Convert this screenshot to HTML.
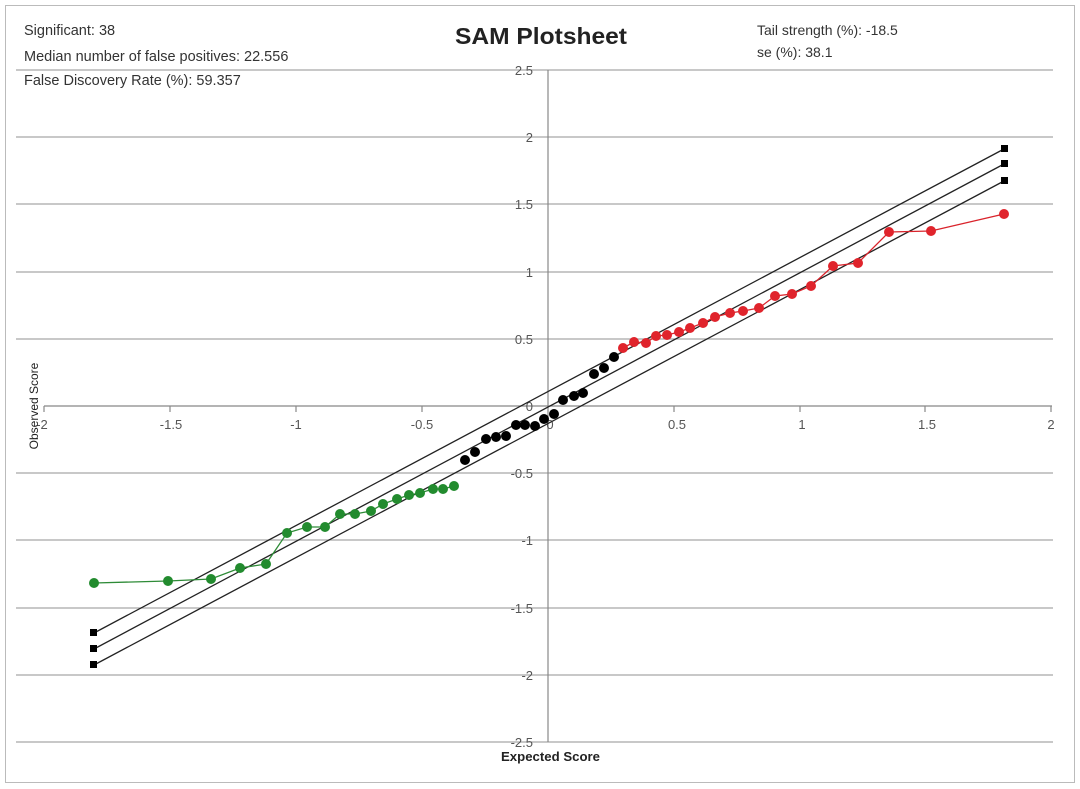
<!DOCTYPE html><html><head><style>body{margin:0;background:#fff}svg{display:block}</style></head><body>
<svg width="1080" height="789" xmlns="http://www.w3.org/2000/svg" font-family="Liberation Sans, sans-serif">
<rect x="0" y="0" width="1080" height="789" fill="#fff"/>
<rect x="5.5" y="5.5" width="1069" height="777" fill="none" stroke="#bbb"/>
<g stroke="#a6a6a6" stroke-width="1.3">
<line x1="16" y1="70" x2="1053" y2="70"/><line x1="16" y1="137" x2="1053" y2="137"/><line x1="16" y1="204" x2="1053" y2="204"/><line x1="16" y1="272" x2="1053" y2="272"/><line x1="16" y1="339" x2="1053" y2="339"/><line x1="16" y1="473" x2="1053" y2="473"/><line x1="16" y1="540" x2="1053" y2="540"/><line x1="16" y1="608" x2="1053" y2="608"/><line x1="16" y1="675" x2="1053" y2="675"/><line x1="16" y1="742" x2="1053" y2="742"/>
</g>
<g stroke="#888" stroke-width="1.2">
<line x1="44" y1="406" x2="1052" y2="406"/><line x1="548" y1="70" x2="548" y2="742"/>
<line x1="44" y1="406" x2="44" y2="412"/><line x1="170" y1="406" x2="170" y2="412"/><line x1="296" y1="406" x2="296" y2="412"/><line x1="422" y1="406" x2="422" y2="412"/><line x1="674" y1="406" x2="674" y2="412"/><line x1="800" y1="406" x2="800" y2="412"/><line x1="925" y1="406" x2="925" y2="412"/><line x1="1051" y1="406" x2="1051" y2="412"/>
</g>
<g font-size="13" fill="#555" text-anchor="end">
<text x="533" y="75">2.5</text><text x="533" y="142">2</text><text x="533" y="209">1.5</text><text x="533" y="277">1</text><text x="533" y="344">0.5</text><text x="533" y="411">0</text><text x="533" y="478">-0.5</text><text x="533" y="545">-1</text><text x="533" y="613">-1.5</text><text x="533" y="680">-2</text><text x="533" y="747">-2.5</text>
</g>
<g font-size="13" fill="#555" text-anchor="middle">
<text x="42" y="429">-2</text><text x="171" y="429">-1.5</text><text x="296" y="429">-1</text><text x="422" y="429">-0.5</text><text x="550" y="429">0</text><text x="677" y="429">0.5</text><text x="802" y="429">1</text><text x="927" y="429">1.5</text><text x="1051" y="429">2</text>
</g>
<g stroke="#222" stroke-width="1.3">
<line x1="94" y1="633" x2="1004" y2="149"/><line x1="94" y1="649" x2="1004" y2="164"/><line x1="94" y1="665" x2="1004" y2="181"/>
</g>
<g fill="#000">
<rect x="90" y="629" width="7" height="7"/><rect x="90" y="645" width="7" height="7"/><rect x="90" y="661" width="7" height="7"/>
<rect x="1001" y="145" width="7" height="7"/><rect x="1001" y="160" width="7" height="7"/><rect x="1001" y="177" width="7" height="7"/>
</g>
<polyline fill="none" stroke="#2e8b37" stroke-width="1.3" points="94,583 168,581 211,579 240,568 266,564 287,533 307,527 325,527 340,514 355,514 371,511 383,504 397,499 409,495 420,493 433,489 443,489 454,486"/>
<g fill="#228b2e">
<circle cx="94" cy="583" r="5"/><circle cx="168" cy="581" r="5"/><circle cx="211" cy="579" r="5"/><circle cx="240" cy="568" r="5"/><circle cx="266" cy="564" r="5"/><circle cx="287" cy="533" r="5"/><circle cx="307" cy="527" r="5"/><circle cx="325" cy="527" r="5"/><circle cx="340" cy="514" r="5"/><circle cx="355" cy="514" r="5"/><circle cx="371" cy="511" r="5"/><circle cx="383" cy="504" r="5"/><circle cx="397" cy="499" r="5"/><circle cx="409" cy="495" r="5"/><circle cx="420" cy="493" r="5"/><circle cx="433" cy="489" r="5"/><circle cx="443" cy="489" r="5"/><circle cx="454" cy="486" r="5"/>
</g>
<g fill="#000">
<circle cx="465" cy="460" r="5"/><circle cx="475" cy="452" r="5"/><circle cx="486" cy="439" r="5"/><circle cx="496" cy="437" r="5"/><circle cx="506" cy="436" r="5"/><circle cx="516" cy="425" r="5"/><circle cx="525" cy="425" r="5"/><circle cx="535" cy="426" r="5"/><circle cx="544" cy="419" r="5"/><circle cx="554" cy="414" r="5"/><circle cx="563" cy="400" r="5"/><circle cx="574" cy="396" r="5"/><circle cx="583" cy="393" r="5"/><circle cx="594" cy="374" r="5"/><circle cx="604" cy="368" r="5"/><circle cx="614" cy="357" r="5"/>
</g>
<polyline fill="none" stroke="#d9232b" stroke-width="1.3" points="623,348 634,342 646,343 656,336 667,335 679,332 690,328 703,323 715,317 730,313 743,311 759,308 775,296 792,294 811,286 833,266 858,263 889,232 931,231 1004,214"/>
<g fill="#e0242c">
<circle cx="623" cy="348" r="5"/><circle cx="634" cy="342" r="5"/><circle cx="646" cy="343" r="5"/><circle cx="656" cy="336" r="5"/><circle cx="667" cy="335" r="5"/><circle cx="679" cy="332" r="5"/><circle cx="690" cy="328" r="5"/><circle cx="703" cy="323" r="5"/><circle cx="715" cy="317" r="5"/><circle cx="730" cy="313" r="5"/><circle cx="743" cy="311" r="5"/><circle cx="759" cy="308" r="5"/><circle cx="775" cy="296" r="5"/><circle cx="792" cy="294" r="5"/><circle cx="811" cy="286" r="5"/><circle cx="833" cy="266" r="5"/><circle cx="858" cy="263" r="5"/><circle cx="889" cy="232" r="5"/><circle cx="931" cy="231" r="5"/><circle cx="1004" cy="214" r="5"/>
</g>
<text x="455" y="44" font-size="23" font-weight="bold" fill="#222" textLength="172" lengthAdjust="spacingAndGlyphs">SAM Plotsheet</text>
<g font-size="14.5" fill="#333">
<text x="24" y="35">Significant: 38</text>
<text x="24" y="61">Median number of false positives: 22.556</text>
<text x="24" y="85">False Discovery Rate (%): 59.357</text>
</g>
<g font-size="14" fill="#333">
<text x="757" y="35">Tail strength (%): -18.5</text>
<text x="757" y="57">se (%): 38.1</text>
</g>
<text x="501" y="761" font-size="12.5" font-weight="bold" fill="#222" textLength="99" lengthAdjust="spacingAndGlyphs">Expected Score</text>
<text transform="translate(38,406) rotate(-90)" font-size="12" text-anchor="middle" fill="#222">Observed Score</text>
</svg></body></html>
